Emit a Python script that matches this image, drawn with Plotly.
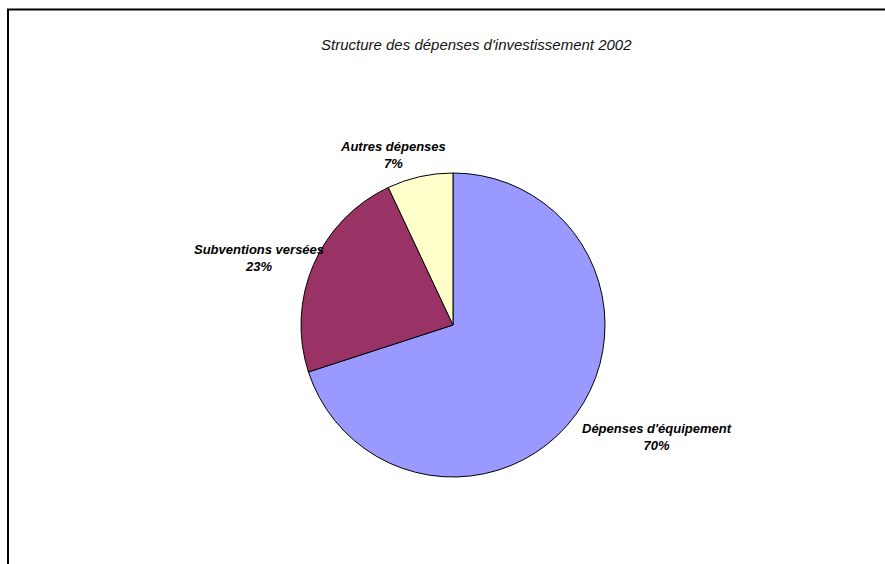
import plotly.graph_objects as go

# Investment spending structure, 2002
categories = ["Dépenses d'équipement", "Subventions versées", "Autres dépenses"]
values = [70, 23, 7]
colors = ["#9999FF", "#993366", "#FFFFCC"]

W, H = 885, 564
cx, cy, r = 453, 325, 152  # pie centre and radius in pixels

total = sum(values)
pcts = [round(v / total * 100) for v in values]

fig = go.Figure(go.Pie(
    labels=categories,
    values=values,
    sort=False,
    direction="clockwise",
    rotation=0,
    marker=dict(colors=colors, line=dict(color="black", width=1)),
    textinfo="none",
    hoverinfo="label+percent",
    showlegend=False,
    domain=dict(x=[(cx - r) / W, (cx + r) / W],
                y=[(H - cy - r) / H, (H - cy + r) / H]),
))

# label anchor points (pixels) for each slice
label_pos = {
    "Dépenses d'équipement": (657, 437),
    "Subventions versées": (259, 258),
    "Autres dépenses": (393, 155),
}

annotations = [dict(
    text="Structure des dépenses d'investissement 2002",
    x=476 / W, y=1 - 44 / H, xref="paper", yref="paper",
    showarrow=False, xanchor="center", yanchor="middle",
    font=dict(family="Liberation Sans, Arial", size=15, color="#111", style="italic"),
)]
for cat, p in zip(categories, pcts):
    px, py = label_pos[cat]
    annotations.append(dict(
        text=f"{cat}<br>{p}%",
        x=px / W, y=1 - py / H, xref="paper", yref="paper",
        showarrow=False, xanchor="center", yanchor="middle", align="center",
        font=dict(family="Liberation Sans, Arial", size=13, color="black",
                  style="italic", weight="bold"),
    ))

fig.update_layout(
    width=W, height=H,
    margin=dict(l=0, r=0, t=0, b=0),
    paper_bgcolor="white",
    plot_bgcolor="white",
    annotations=annotations,
    shapes=[dict(
        type="rect", xref="paper", yref="paper",
        x0=8 / W, x1=1.02, y0=-0.02, y1=1 - 9.5 / H,
        line=dict(color="black", width=2),
    )],
)

fig.write_html("out.html")
